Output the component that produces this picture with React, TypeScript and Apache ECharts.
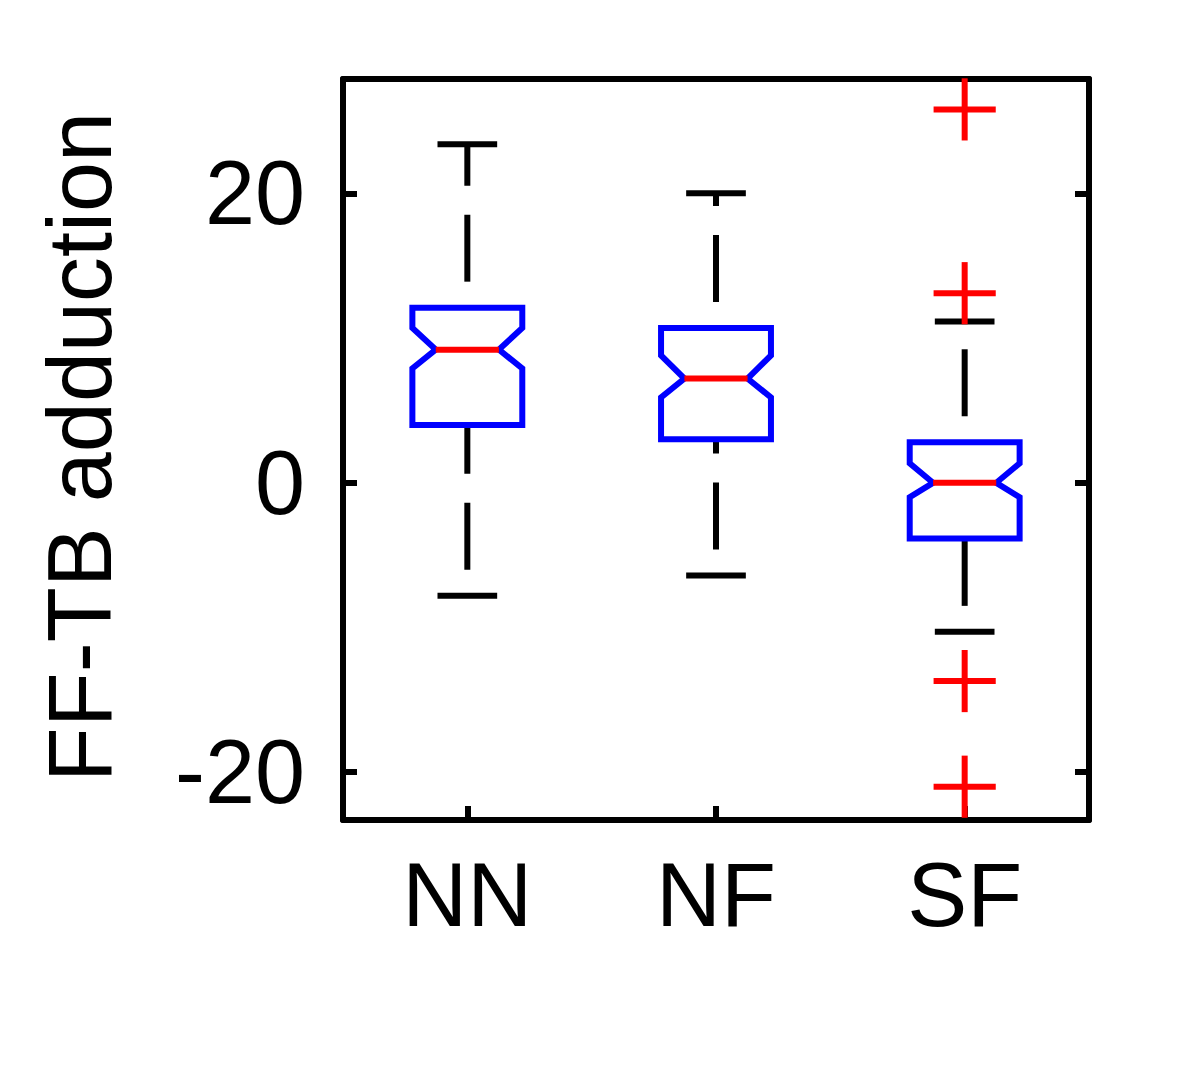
import React, { useEffect, useRef } from "react";
import * as echarts from "echarts";

const categories = ["NN", "NF", "SF"];
const whiskerLow = [-7.8, -6.4, -10.3];
const q1 = [4.0, 3.0, -3.85];
const notchLow = [7.9, 5.9, -1.0];
const median = [9.2, 7.2, 0];
const notchHigh = [10.7, 8.8, 1.35];
const q3 = [12.1, 10.7, 2.8];
const whiskerHigh = [23.4, 20.0, 11.15];
const outlierCategory = [2, 2, 2, 2];
const outlierValues = [25.8, 13.1, -13.7, -21.0];
const yTicks = [-20, 0, 20];
const yMin = -23.3;
const yMax = 27.9;

const FONT = "'Liberation Sans', Arial, sans-serif";
const LW = 6;

export default function App() {
  const ref = useRef<HTMLDivElement>(null);
  useEffect(() => {
    if (!ref.current) return;
    const chart = echarts.init(ref.current, null, { renderer: "svg" });
    const boxData = categories.map((_, i) => [
      i,
      whiskerLow[i],
      q1[i],
      notchLow[i],
      median[i],
      notchHigh[i],
      q3[i],
      whiskerHigh[i],
    ]);
    const outData = outlierValues.map((v, i) => [outlierCategory[i], v]);

    const renderBox = (params: any, api: any) => {
      const idx = api.value(0);
      const band = api.size([1, 0])[0];
      const cx = api.coord([idx, 0])[0];
      const y = (k: number) => api.coord([idx, api.value(k)])[1];
      const yWL = y(1), yQ1 = y(2), yNL = y(3), yMed = y(4), yNH = y(5), yQ3 = y(6), yWH = y(7);
      const hb = band * 0.221;
      const hn = band * 0.127;
      const hc = band * 0.12;
      const dash = { lineDash: [67, 29], lineDashOffset: 70 };
      return {
        type: "group",
        children: [
          {
            type: "line",
            shape: { x1: cx, y1: yQ3, x2: cx, y2: yWH },
            style: { stroke: "#000", lineWidth: LW, ...dash },
          },
          {
            type: "line",
            shape: { x1: cx, y1: yWL, x2: cx, y2: yQ1 },
            style: { stroke: "#000", lineWidth: LW, ...dash },
          },
          {
            type: "line",
            shape: { x1: cx - hc, y1: yWH, x2: cx + hc, y2: yWH },
            style: { stroke: "#000", lineWidth: LW },
          },
          {
            type: "line",
            shape: { x1: cx - hc, y1: yWL, x2: cx + hc, y2: yWL },
            style: { stroke: "#000", lineWidth: LW },
          },
          {
            type: "polygon",
            shape: {
              points: [
                [cx - hb, yQ3],
                [cx + hb, yQ3],
                [cx + hb, yNH],
                [cx + hn, yMed],
                [cx + hb, yNL],
                [cx + hb, yQ1],
                [cx - hb, yQ1],
                [cx - hb, yNL],
                [cx - hn, yMed],
                [cx - hb, yNH],
              ],
            },
            style: { fill: "none", stroke: "#0000ff", lineWidth: LW, lineJoin: "miter" },
          },
          {
            type: "line",
            shape: { x1: cx - hn, y1: yMed, x2: cx + hn, y2: yMed },
            style: { stroke: "#ff0000", lineWidth: LW },
          },
        ],
      };
    };

    const renderOutlier = (params: any, api: any) => {
      const band = api.size([1, 0])[0];
      const p = api.coord([api.value(0), api.value(1)]);
      const h = band * 0.125;
      return {
        type: "group",
        children: [
          {
            type: "line",
            shape: { x1: p[0] - h, y1: p[1], x2: p[0] + h, y2: p[1] },
            style: { stroke: "#ff0000", lineWidth: LW },
          },
          {
            type: "line",
            shape: { x1: p[0], y1: p[1] - h, x2: p[0], y2: p[1] + h },
            style: { stroke: "#ff0000", lineWidth: LW },
          },
        ],
      };
    };

    const axisLine = { show: true, onZero: false, lineStyle: { color: "#000", width: LW } };
    const tickStyle = { color: "#000", width: LW };

    chart.setOption({
      animation: false,
      backgroundColor: "#fff",
      grid: { left: 343, right: 111, top: 79, bottom: 246 },
      xAxis: [
        {
          type: "category",
          data: categories,
          position: "bottom",
          axisLine,
          axisTick: { show: true, inside: true, length: 14, alignWithLabel: true, lineStyle: tickStyle },
          axisLabel: { color: "#000", fontSize: 90, fontFamily: FONT, margin: 30 },
          splitLine: { show: false },
        },
        {
          type: "category",
          data: categories,
          position: "top",
          axisLine,
          axisTick: { show: false },
          axisLabel: { show: false },
          splitLine: { show: false },
        },
      ],
      yAxis: [
        {
          type: "value",
          min: yMin,
          max: yMax,
          position: "left",
          axisLine,
          axisTick: { show: true, inside: true, length: 14, lineStyle: tickStyle, customValues: yTicks },
          axisLabel: {
            color: "#000",
            fontSize: 90,
            fontFamily: FONT,
            margin: 38,
            customValues: yTicks,
            showMinLabel: true,
            showMaxLabel: true,
          },
          splitLine: { show: false },
        },
        {
          type: "value",
          min: yMin,
          max: yMax,
          position: "right",
          axisLine,
          axisTick: { show: true, inside: true, length: 14, lineStyle: tickStyle, customValues: yTicks },
          axisLabel: { show: false },
          splitLine: { show: false },
        },
      ],
      graphic: [
        {
          type: "text",
          x: 80,
          y: 447,
          rotation: Math.PI / 2,
          style: {
            text: "FF-TB adduction",
            fontSize: 90,
            fontFamily: FONT,
            fill: "#000",
            align: "center",
            verticalAlign: "middle",
          },
        },
      ],
      series: [
        {
          type: "custom",
          renderItem: renderBox,
          data: boxData,
          encode: { x: 0, y: [1, 2, 3, 4, 5, 6, 7] },
          clip: false,
          z: 3,
        },
        {
          type: "custom",
          renderItem: renderOutlier,
          data: outData,
          encode: { x: 0, y: 1 },
          clip: false,
          z: 4,
        },
      ],
    });
    return () => chart.dispose();
  }, []);
  return (
    <div
      ref={ref}
      style={{ position: "absolute", left: 0, top: 0, width: 1200, height: 1066, background: "#fff" }}
    />
  );
}
